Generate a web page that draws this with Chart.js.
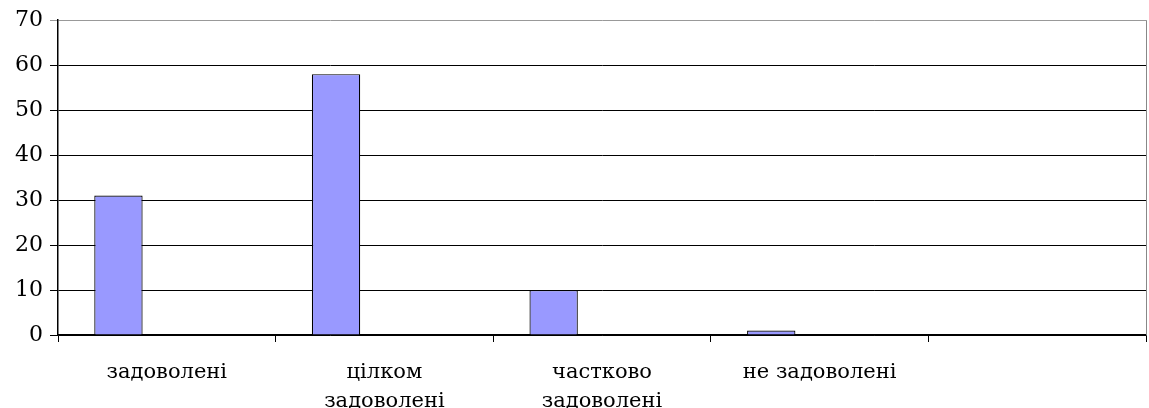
<!DOCTYPE html>
<html>
<head>
<meta charset="utf-8">
<script src="https://cdn.jsdelivr.net/npm/chart.js@4/dist/chart.umd.min.js"></script>
<style>
  html, body { margin: 0; padding: 0; background: #fff; }
  #wrap { width: 1149px; height: 408px; }
</style>
</head>
<body>
<div id="wrap"><canvas id="chart"></canvas></div>
<script>
// data
const categories = ['задоволені', ['цілком', 'задоволені'], ['частково', 'задоволені'], 'не задоволені', ''];
const seriesMain = [31, 58, 10, 1, null];
const seriesB = [null, null, null, null, null];
const seriesC = [null, null, null, null, null];
const yTicks = { min: 0, max: 70, step: 10 };

// right border of the plot area
const rightBorder = {
    id: 'rightBorder',
    afterDraw(chart) {
        const a = chart.chartArea;
        const c = chart.ctx;
        c.save();
        c.strokeStyle = '#888';
        c.lineWidth = 1;
        c.beginPath();
        c.moveTo(a.right + 0.5, a.top);
        c.lineTo(a.right + 0.5, a.bottom);
        c.stroke();
        c.restore();
    }
};

new Chart(document.getElementById('chart'), {
    type: 'bar',
    data: {
        labels: categories,
        datasets: [
            { data: seriesMain, backgroundColor: '#9999FF', borderColor: '#000', borderWidth: 1.2 },
            { data: seriesB, backgroundColor: '#993366', borderColor: '#000', borderWidth: 1 },
            { data: seriesC, backgroundColor: '#FFFFCC', borderColor: '#000', borderWidth: 1 }
        ]
    },
    options: {
        responsive: true,
        maintainAspectRatio: false,
        animation: false,
        layout: { padding: { top: 20, right: 3, left: 0, bottom: 0 } },
        plugins: { legend: { display: false }, tooltip: { enabled: false } },
        datasets: { bar: { categoryPercentage: 3 / 4.5, barPercentage: 1, grouped: true } },
        scales: {
            x: {
                grid: { offset: true, drawOnChartArea: false, color: '#000', tickLength: 7 },
                border: { color: '#000', width: 1.5 },
                ticks: {
                    color: '#000',
                    padding: 16,
                    maxRotation: 0,
                    autoSkip: false,
                    font: { family: 'DejaVu Serif', size: 21, lineHeight: 1.38 }
                },
                afterFit(scale) { scale.height = 73; }
            },
            y: {
                min: yTicks.min,
                max: yTicks.max,
                ticks: {
                    stepSize: yTicks.step,
                    color: '#000',
                    padding: 7,
                    font: { family: 'DejaVu Serif', size: 22 }
                },
                grid: {
                    color: ctx => (ctx.tick && ctx.tick.value === yTicks.max ? '#999' : '#000'),
                    lineWidth: 1,
                    tickLength: 8
                },
                border: { color: '#000', width: 1.5 },
                afterFit(scale) { scale.width = 58; }
            }
        }
    },
    plugins: [rightBorder]
});
</script>
</body>
</html>
